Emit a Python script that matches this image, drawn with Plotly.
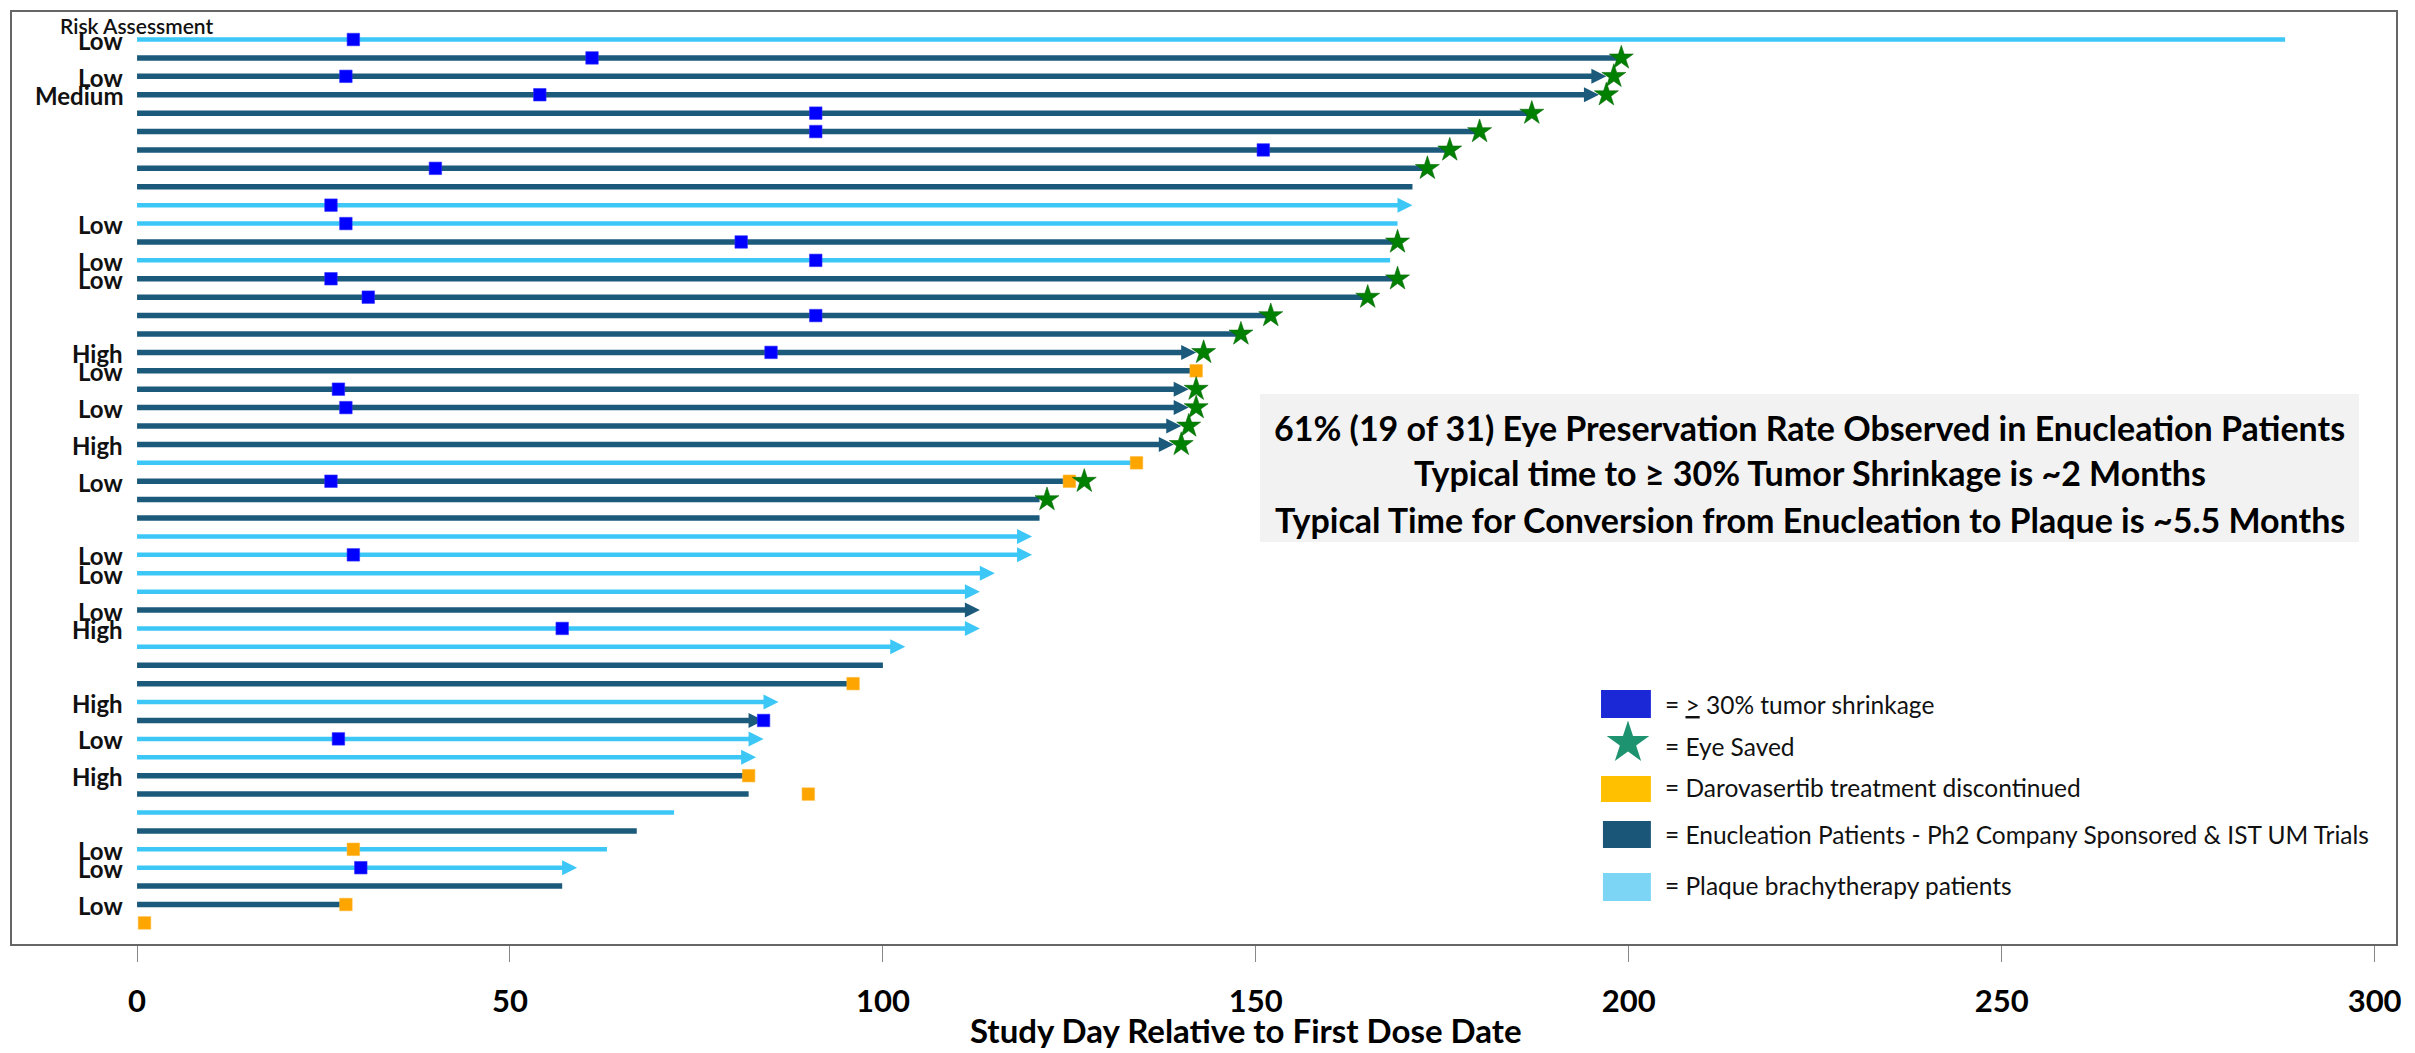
import plotly.graph_objects as go

# ---------------- patient rows, listed top to bottom ----------------
risk = ["Low", "", "Low", "Medium", "", "", "", "",
        "", "", "Low", "", "Low", "Low", "", "",
        "", "High", "Low", "", "Low", "", "High", "",
        "Low", "", "", "", "Low", "Low", "", "Low",
        "High", "", "", "", "High", "", "Low", "",
        "High", "", "", "", "Low", "Low", "", "Low", ""]

# "E" = enucleation patient, "P" = plaque brachytherapy patient
cohort = ["P", "E", "E", "E", "E", "E", "E", "E",
          "E", "P", "P", "E", "P", "E", "E", "E",
          "E", "E", "E", "E", "E", "E", "E", "P",
          "E", "E", "E", "P", "P", "P", "P", "E",
          "P", "P", "E", "E", "P", "E", "P", "P",
          "E", "E", "P", "E", "P", "P", "E", "E", None]

days_on_study = [288, 199, 197, 196, 187, 180, 176, 173,
                 171, 171, 169, 169, 168, 169, 165, 152,
                 148, 142, 142, 141, 141, 140, 139, 134,
                 125, 121, 121, 120, 120, 115, 113, 113,
                 113, 103, 100, 96, 86, 84, 84, 83,
                 82, 82, 72, 67, 63, 59, 57, 28, None]

still_on_treatment = [False, False, True, True, False, False, False, False,
                      False, True, False, False, False, False, False, False,
                      False, True, False, True, True, True, True, False,
                      False, False, False, True, True, True, True, True,
                      True, True, False, False, True, True, True, True,
                      False, False, False, False, False, True, False, False, False]

shrinkage_day = [29, 61, 28, 54, 91, 91, 151, 40,
                 None, 26, 28, 81, 91, 26, 31, 91,
                 None, 85, None, 27, 28, None, None, None,
                 26, None, None, None, 29, None, None, None,
                 57, None, None, None, None, 84, 27, None,
                 None, None, None, None, None, 30, None, None, None]

eye_saved_day = [None, 199, 198, 197, 187, 180, 176, 173,
                 None, None, None, 169, None, 169, 165, 152,
                 148, 143, None, 142, 142, 141, 140, None,
                 127, 122, None, None, None, None, None, None,
                 None, None, None, None, None, None, None, None,
                 None, None, None, None, None, None, None, None, None]

discontinued_day = [None, None, None, None, None, None, None, None,
                    None, None, None, None, None, None, None, None,
                    None, None, 142, None, None, None, None, 134,
                    125, None, None, None, None, None, None, None,
                    None, None, None, 96, None, None, None, None,
                    82, 90, None, None, 29, None, None, 28, 1]

x_ticks = [0, 50, 100, 150, 200, 250, 300]

summary_lines = [
    "61% (19 of 31) Eye Preservation Rate Observed in Enucleation Patients",
    "Typical time to \u2265 30% Tumor Shrinkage is ~2 Months",
    "Typical Time for Conversion from Enucleation to Plaque is ~5.5 Months",
]

legend_labels = [
    "= <u>&gt;</u> 30% tumor shrinkage",
    "= Eye Saved",
    "= Darovasertib treatment discontinued",
    "= Enucleation Patients - Ph2 Company Sponsored & IST UM Trials",
    "= Plaque brachytherapy patients",
]

# ---------------- styling ----------------
DARK = "#1b5a7b"
LIGHT = "#3cc7f7"
BLUE = "#0000ff"
ORANGE = "#ffa500"
GREEN = "#008000"
FONT = "Lato"
ARROW_GAP = 1.2  # bar stops a little short of the arrow tip

rows = list(range(len(risk)))
fig = go.Figure()

# swim lanes + arrow heads for patients still on treatment
for kind, color, width in (("E", DARK, 5.5), ("P", LIGHT, 4.5)):
    xs, ys, ax, ay = [], [], [], []
    for r in rows:
        if cohort[r] != kind or days_on_study[r] is None:
            continue
        end = days_on_study[r]
        if still_on_treatment[r]:
            ax.append(end)
            ay.append(r)
            end = end - ARROW_GAP
        xs += [0, end, None]
        ys += [r, r, None]
    fig.add_trace(go.Scatter(x=xs, y=ys, mode="lines",
                             line=dict(color=color, width=width),
                             hoverinfo="skip", showlegend=False))
    fig.add_trace(go.Scatter(x=ax, y=ay, mode="markers",
                             marker=dict(symbol="arrow-right", size=15, color=color,
                                         line=dict(width=0)),
                             hoverinfo="skip", showlegend=False))


def event_points(values):
    px, py = [], []
    for r in rows:
        if values[r] is not None:
            px.append(values[r])
            py.append(r)
    return px, py


sx, sy = event_points(shrinkage_day)
fig.add_trace(go.Scatter(x=sx, y=sy, mode="markers",
                         marker=dict(symbol="square", size=12.5, color=BLUE,
                                     line=dict(width=0.6, color="#3030ff")),
                         showlegend=False))
dx, dy = event_points(discontinued_day)
fig.add_trace(go.Scatter(x=dx, y=dy, mode="markers",
                         marker=dict(symbol="square", size=12.5, color=ORANGE,
                                     line=dict(width=0.6, color="#ffb733")),
                         showlegend=False))
ex, ey = event_points(eye_saved_day)
fig.add_trace(go.Scatter(x=ex, y=ey, mode="markers",
                         marker=dict(symbol="star", size=18, color=GREEN,
                                     line=dict(width=0.6, color="#0a6a0a")),
                         showlegend=False))

# legend star, drawn on a hidden 0..1 overlay axis pair
fig.add_trace(go.Scatter(x=[0.6777], y=[0.2163], xaxis="x2", yaxis="y2",
                         mode="markers",
                         marker=dict(symbol="star", size=32, color="#1e936f",
                                     line=dict(width=0)),
                         showlegend=False, hoverinfo="skip"))

annotations = []
# risk assessment labels
for r in rows:
    if risk[r]:
        annotations.append(dict(x=0, y=r, xref="x", yref="y", text=f"<b>{risk[r]}</b>",
                                xanchor="right", yanchor="middle", xshift=-12, yshift=-1,
                                showarrow=False,
                                font=dict(family=FONT, size=24, color="#111")))
annotations.append(dict(x=0.0524, y=0.985, xref="paper", yref="paper",
                        text="Risk Assessment", showarrow=False,
                        xanchor="center", yanchor="middle",
                        font=dict(family=FONT, size=21, color="#111", weight=600)))

# summary box text
for line, yy in zip(summary_lines, (0.5546, 0.5054, 0.4561)):
    annotations.append(dict(x=0.7538, y=yy, xref="paper", yref="paper",
                            text=f"<b>{line}</b>", showarrow=False,
                            xanchor="center", yanchor="middle",
                            font=dict(family=FONT, size=34, color="#000")))

# legend text
for label, yy in zip(legend_labels, (0.2580, 0.2120, 0.1681, 0.1178, 0.0642)):
    annotations.append(dict(x=0.6924, y=yy, xref="paper", yref="paper",
                            text=label, showarrow=False,
                            xanchor="left", yanchor="middle",
                            font=dict(family=FONT, size=24.5, color="#111")))

# x-axis title
annotations.append(dict(x=0.5176, y=-0.0915, xref="paper", yref="paper",
                        text="<b>Study Day Relative to First Dose Date</b>",
                        showarrow=False, xanchor="center", yanchor="middle",
                        font=dict(family=FONT, size=33, color="#000")))

shapes = [
    # summary box
    dict(type="rect", xref="paper", yref="paper", x0=0.5235, x1=0.9841,
         y0=0.4315, y1=0.5899, fillcolor="#f2f2f2", line=dict(width=0), layer="below"),
    # legend swatches
    dict(type="rect", xref="paper", yref="paper", x0=0.6664, x1=0.6873,
         y0=0.2430, y1=0.2730, fillcolor="#1b28d6", line=dict(width=0)),
    dict(type="rect", xref="paper", yref="paper", x0=0.6664, x1=0.6873,
         y0=0.1531, y1=0.1809, fillcolor="#ffc000", line=dict(width=0)),
    dict(type="rect", xref="paper", yref="paper", x0=0.6672, x1=0.6873,
         y0=0.1039, y1=0.1328, fillcolor="#1a5678", line=dict(width=0)),
    dict(type="rect", xref="paper", yref="paper", x0=0.6672, x1=0.6873,
         y0=0.0471, y1=0.0771, fillcolor="#7dd5f6", line=dict(width=0)),
    # frame
    dict(type="rect", xref="paper", yref="paper", x0=0, x1=1, y0=0, y1=1,
         line=dict(color="#666666", width=2), layer="above"),
]

fig.update_layout(
    width=2415, height=1053,
    margin=dict(l=11, r=18, t=11, b=108),
    paper_bgcolor="white", plot_bgcolor="white",
    showlegend=False,
    annotations=annotations,
    shapes=shapes,
    xaxis=dict(range=[-16.9, 303], tickvals=x_ticks,
               ticktext=[f"<b>{t}</b>" for t in x_ticks],
               ticks="outside", ticklen=16, tickcolor="#888", tickwidth=1,
               tickfont=dict(family=FONT, size=31, color="#000"),
               ticklabelstandoff=13,
               showgrid=False, zeroline=False, showline=False, automargin=False),
    yaxis=dict(range=[49.2, -1.55], visible=False, showgrid=False, zeroline=False),
    xaxis2=dict(overlaying="x", range=[0, 1], visible=False, anchor="y2"),
    yaxis2=dict(overlaying="y", range=[0, 1], visible=False, anchor="x2"),
)

fig.write_html("out.html")
